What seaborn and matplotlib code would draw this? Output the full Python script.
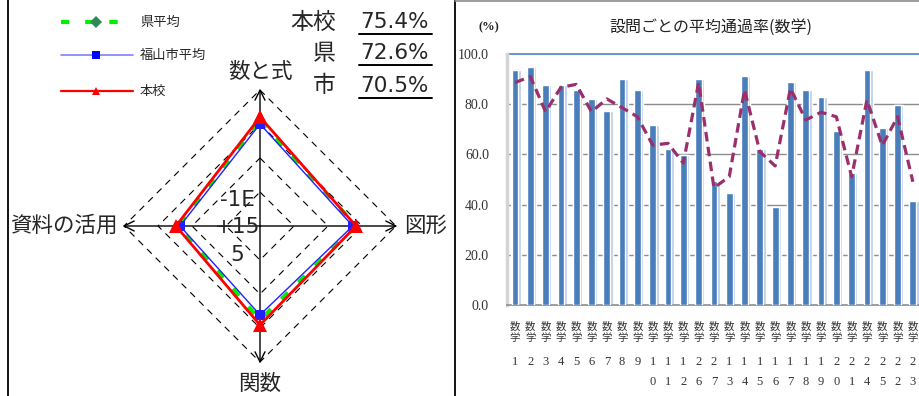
import numpy as np
import pandas as pd
import matplotlib
matplotlib.use("Agg")
import matplotlib.pyplot as plt
import matplotlib.transforms as mtransforms
import seaborn as sns

# ---------------- data ----------------
radar_axes = ["数と式", "図形", "関数", "資料の活用"]
school = [80.1, 70.6, 72.8, 61.8]      # 本校
city = [75.0, 68.2, 65.4, 58.8]        # 福山市平均
pref = [77.2, 70.6, 69.1, 60.3]        # 県平均
ring_levels = [25, 50, 75, 100]
ring_labels = ["-1E", "+15", "5"]
summary_names = ["本校", "県", "市"]
summary_values = ["75.4%", "72.6%", "70.5%"]

question_nums = ["1", "2", "3", "4", "5", "6", "7", "8", "9", "10", "11", "12",
                 "26", "27", "13", "14", "15", "16", "17", "18", "19", "20",
                 "21", "24", "25", "22", "23"]
categories = ["数学" + n for n in question_nums]
bar_values = [93.6, 94.8, 87.6, 87.6, 85.7, 82.1, 77.3, 90.0, 85.7, 71.7, 62.2,
              59.8, 90.0, 49.4, 44.6, 91.2, 62.2, 39.0, 88.8, 85.7, 82.9, 69.3,
              52.6, 93.6, 70.5, 79.7, 41.4]
line_values = [88.6, 91.0, 77.0, 86.7, 87.9, 77.0, 82.1, 78.6, 75.0, 63.7, 64.4,
               56.5, 88.6, 46.7, 51.1, 85.7, 61.1, 55.4, 86.3, 73.7, 76.8, 75.0,
               51.1, 81.7, 63.5, 75.0, 49.1]
y_ticks = [0, 20, 40, 60, 80, 100]

# ---------------- setup ----------------
sns.set_theme(style="white")
plt.rcParams["font.family"] = ["Noto Sans CJK JP", "DejaVu Sans"]

W, H = 919, 396
fig = plt.figure(figsize=(W / 100, H / 100), dpi=100)


def px_axes(l, t, r, b, **kw):
    return fig.add_axes([l / W, 1 - b / H, (r - l) / W, (b - t) / H], **kw)


# ---------------- radar (left) ----------------
axr = px_axes(90, 56, 430, 396)
axr.set_xlim(-125, 125)
axr.set_ylim(-125, 125)
axr.axis("off")

angles = {"数と式": (0, 1), "図形": (1, 0), "関数": (0, -1), "資料の活用": (-1, 0)}


def to_xy(vals):
    xs, ys = [], []
    for name, v in zip(radar_axes + radar_axes[:1], vals + vals[:1]):
        dx, dy = angles[name]
        xs.append(dx * v)
        ys.append(dy * v)
    return xs, ys


for r in ring_levels:
    xs, ys = to_xy([r] * 4)
    axr.plot(xs, ys, color="black", lw=0.8, ls=(0, (6, 5)), zorder=1)

for name in radar_axes:
    dx, dy = angles[name]
    axr.annotate("", xy=(dx * 101, dy * 101), xytext=(0, 0),
                 arrowprops=dict(arrowstyle="->", lw=1.0, color="black",
                                 mutation_scale=18, shrinkA=0, shrinkB=0),
                 zorder=2)

xs, ys = to_xy(pref)
sns.lineplot(x=xs, y=ys, ax=axr, sort=False, estimator=None, color="#00ee00",
             lw=3, zorder=3)
axr.lines[-1].set_dashes([2.2, 3.5])
xs, ys = to_xy(city)
sns.lineplot(x=xs, y=ys, ax=axr, sort=False, estimator=None, color="#2020ff",
             lw=1.0, marker="s", markersize=6.5, markeredgewidth=0, zorder=4)
xs, ys = to_xy(school)
sns.lineplot(x=xs, y=ys, ax=axr, sort=False, estimator=None, color="#ff0000",
             lw=2.0, marker="^", markersize=9.5, markeredgewidth=0, zorder=5)
axr.set_xlim(-125, 125)
axr.set_ylim(-125, 125)

# ---------------- bar chart (right) ----------------
axb = px_axes(507, 54, 930, 305)
df = pd.DataFrame({"cat": categories, "val": bar_values})
sns.barplot(data=df, x="cat", y="val", order=categories, color="#b9cde5",
            width=0.62, saturation=1, ax=axb, zorder=2)
sns.barplot(data=df, x="cat", y="val", order=categories, color="#4a7ebb",
            width=0.44, saturation=1, ax=axb, zorder=3)
n = len(categories)
for p in axb.patches[:n]:
    p.set_x(p.get_x() + 0.07)
sns.lineplot(x=np.arange(n), y=line_values, ax=axb, color="#9b2f6b", lw=2.3,
             zorder=4)
axb.lines[-1].set_dashes([3, 1.7])
axb.set_ylim(0, 100)
axb.set_xlim(-0.523, 27.12)
for t in y_ticks[1:-1]:
    axb.axhline(t, color="#8c8c8c", lw=1.0, zorder=1)
axb.axhline(100, color="#4f81bd", lw=1.2, zorder=1, clip_on=False)
axb.set_yticks(y_ticks)
axb.set_yticklabels([f"{t:.1f}" for t in y_ticks], family="Liberation Serif",
                    fontsize=10, color="#333333")
axb.tick_params(axis="y", length=0, pad=13)
axb.set_xticks(range(n))
axb.set_xticklabels([""] * n)
axb.tick_params(axis="x", length=0)
axb.set_xlabel("")
axb.set_ylabel("")
for s in ["top", "right"]:
    axb.spines[s].set_visible(False)
axb.spines["left"].set_color("#d4d4d4")
axb.spines["left"].set_linewidth(2.5)
axb.spines["bottom"].set_color("#8c8c8c")
axb.spines["bottom"].set_linewidth(1.2)
axb.set_facecolor("white")

trans = mtransforms.blended_transform_factory(axb.transData, fig.transFigure)
rows = [327, 338.5, 362, 382]
for i, num in enumerate(question_nums):
    chars = ["数", "学"] + list(num)
    for j, ch in enumerate(chars):
        fam = ["Noto Sans CJK JP"] if j < 2 else ["Liberation Serif"]
        axb.text(i, 1 - rows[j] / H, ch, transform=trans, ha="center",
                 va="center", fontsize=7.5 if j < 2 else 9, family=fam,
                 color="#333333", clip_on=False)

# ---------------- overlay: texts, legend, borders ----------------
axo = fig.add_axes([0, 0, 1, 1], zorder=10)
axo.set_xlim(0, W)
axo.set_ylim(H, 0)
axo.axis("off")
axo.patch.set_alpha(0)

# borders
axo.plot([8, 8], [0, H], color="black", lw=1.3)
axo.plot([455, 455], [0, H], color="black", lw=1.3)
axo.plot([455, W], [1, 1], color="#8c8c8c", lw=1.2)

# radar axis labels
axo.text(260, 72, radar_axes[0], ha="center", va="center", fontsize=15.5)
axo.text(404, 226, radar_axes[1], ha="left", va="center", fontsize=15.5)
axo.text(260, 384, radar_axes[2], ha="center", va="center", fontsize=15.5)
axo.text(118, 226, radar_axes[3], ha="right", va="center", fontsize=15.5)

# ring labels
for lab, y in zip(ring_labels, [200, 227, 255]):
    axo.text(237, y, lab, ha="center", va="center", fontsize=15.5,
             family=["DejaVu Sans"])

# summary
for name, val, y in zip(summary_names, summary_values, [22, 53, 86]):
    axo.text(336, y, name, ha="right", va="center", fontsize=16.5)
    axo.text(360, y, val, ha="left", va="center", fontsize=15.5,
             family=["DejaVu Sans"])
    axo.plot([359, 432], [y + 12, y + 12], color="black", lw=1.4)

# legend
leg = [("県平均", "#00ee00", "D", "#2e8b57", 22, (0, (2, 3.8)), 3),
       ("福山市平均", "#7f7fff", "s", "#0000ff", 55, "-", 1.2),
       ("本校", "#ff0000", "^", "#ff0000", 91, "-", 1.6)]
for lab, c, m, mc, y, ls, lw in leg:
    axo.plot([61, 133], [y, y], color=c, ls=ls, lw=lw)
    axo.plot([96], [y], marker=m, color=mc, markersize=6, markeredgewidth=0)
    axo.text(140, y, lab, ha="left", va="center", fontsize=9.5)

# bar chart title and unit
axo.text(711, 27, "設問ごとの平均通過率(数学)", ha="center", va="center",
         fontsize=11.5, color="#222222")
axo.text(489, 27, "(%)", ha="center", va="center", fontsize=9,
         family=["Liberation Serif"], color="#222222", weight="bold")

fig.savefig("out.png", dpi=100)
